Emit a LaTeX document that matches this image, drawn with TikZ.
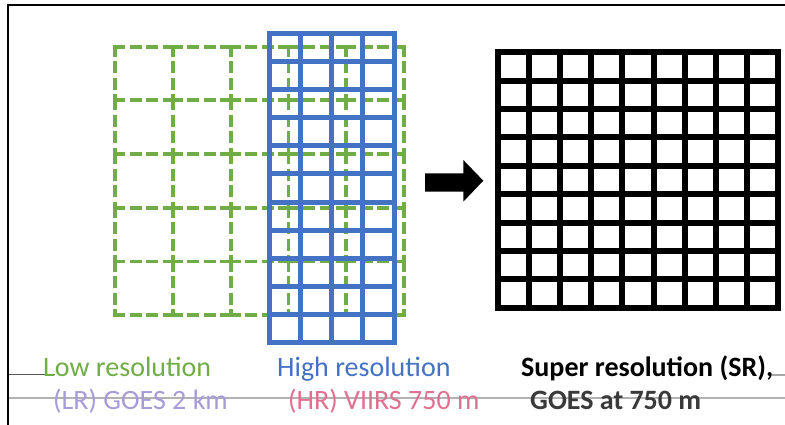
\documentclass[tikz,border=0pt]{standalone}
\usepackage{fontspec}
\setmainfont{Carlito}
\definecolor{lrgreen}{HTML}{70AD47}
\definecolor{hrblue}{HTML}{4472C4}
\definecolor{lrsub}{HTML}{A89CD8}
\definecolor{hrsub}{HTML}{E0708F}
\definecolor{srsub}{HTML}{3A3A3A}
\tikzset{
  lrline/.style={lrgreen,line width=3.8pt,dash pattern=on 12pt off 4.5pt},
  hrline/.style={hrblue,line width=5pt},
  srline/.style={black,line width=6pt},
  lbl/.style={anchor=base west,inner sep=0pt,font=\fontsize{28}{33}\selectfont},
  guide/.style={line width=1.3pt}
}
\begin{document}
\begin{tikzpicture}[x=1pt,y=-1pt]
\useasboundingbox (0,0) rectangle (785,425);
\fill[white] (0,0) rectangle (785,425);
% frame
\draw[black,line width=2.5pt] (8,425) -- (8,5) -- (785,5);
% low resolution dashed grid
\foreach \i in {0,...,5}{
  \foreach \j in {0,...,4}{
    \draw[lrline] ({113.1+\j*57.8},{46.7+\i*53.7}) -- ({116.9+(\j+1)*57.8},{46.7+\i*53.7});
    \draw[lrline] ({115+\i*57.8},{44.8+\j*53.7}) -- ({115+\i*57.8},{48.6+(\j+1)*53.7});
  }
}
% high resolution grid
\foreach \i in {0,...,4}{
  \draw[hrline] ({269.3+\i*31.175},33.3) -- ({269.3+\i*31.175},342.7);
}
\foreach \i in {0,...,11}{
  \draw[hrline] (266.8,{33.3+\i*28.13}) -- (396.5,{33.3+\i*28.13});
}
% arrow
\fill[black] (425,173.3) -- (463.3,173.3) -- (463.3,160) -- (483.3,180.7)
  -- (463.3,201.7) -- (463.3,191.7) -- (425,191.7) -- cycle;
% super resolution grid
\foreach \i in {0,...,9}{
  \draw[srline] ({498.3+\i*31.04},49.3) -- ({498.3+\i*31.04},310.7);
}
\foreach \i in {0,...,9}{
  \draw[srline] (495.3,{52.3+\i*28.38}) -- (780.7,{52.3+\i*28.38});
}
% guide lines
\draw[guide,gray!70!black] (9,374.5) -- (55,374.5);
\draw[guide,gray!70] (772,375) -- (785,375);
\draw[guide,gray!60] (9,398) -- (785,398);
% labels
\node[lbl,text=lrgreen] (lr1) at (43,376) {Low resolution};
\node[lbl,text=lrsub] (lr2) at (53,409) {(LR) GOES 2 km};
\node[lbl,text=hrblue] (hr1) at (277,376) {High resolution};
\node[lbl,text=hrsub] (hr2) at (288,409) {(HR) VIIRS 750 m};
\node[lbl,text=black,font=\fontsize{28}{33}\selectfont\bfseries] (sr1) at (521,376) {Super resolution (SR),};
\node[lbl,text=srsub,font=\fontsize{28}{33}\selectfont\bfseries] (sr2) at (530,409) {GOES at 750 m};
\end{tikzpicture}
\end{document}
